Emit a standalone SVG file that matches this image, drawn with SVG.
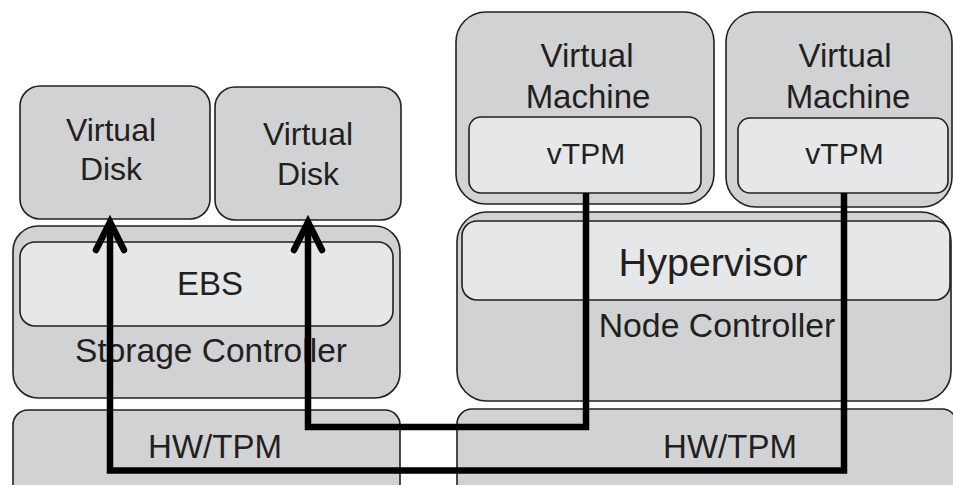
<svg xmlns="http://www.w3.org/2000/svg" width="953" height="485" viewBox="0 0 953 485">
  <style>
    .outer { fill: #d1d2d4; stroke: #231f20; stroke-width: 1.6; }
    .inner { fill: #e6e7e8; stroke: #231f20; stroke-width: 1.6; }
    .lbl { font-family: "Liberation Sans", Arial, sans-serif; fill: #231f20; text-anchor: middle; }
    .wire { fill: none; stroke: #000; stroke-width: 6.5; stroke-linejoin: miter; }
  </style>
  <defs>
    <marker id="chevron" markerUnits="userSpaceOnUse" viewBox="-36 -20 44 40" refX="-4" refY="0"
            markerWidth="44" markerHeight="40" orient="auto" overflow="visible">
      <path d="M-28,-14 L0,0 L-28,14" fill="none" stroke="#000" stroke-width="6.5"
            stroke-linecap="round" stroke-linejoin="miter"/>
    </marker>
  </defs>

  <rect width="953" height="485" fill="#ffffff"/>

  <!-- Storage side -->
  <g id="virtual-disk-1">
    <rect class="outer" x="20" y="86" width="190" height="133" rx="20"/>
    <text class="lbl" x="111" y="141" font-size="32">Virtual</text>
    <text class="lbl" x="111" y="180" font-size="32">Disk</text>
  </g>
  <g id="virtual-disk-2">
    <rect class="outer" x="215" y="87" width="186" height="133" rx="20"/>
    <text class="lbl" x="308" y="145" font-size="32">Virtual</text>
    <text class="lbl" x="308" y="185" font-size="32">Disk</text>
  </g>
  <g id="storage-controller">
    <rect class="outer" x="13" y="226" width="387" height="172" rx="25"/>
    <text class="lbl" x="211" y="362" font-size="33.5">Storage Controller</text>
  </g>
  <g id="ebs">
    <rect class="inner" x="20" y="242" width="373" height="84" rx="15"/>
    <text class="lbl" x="210" y="295" font-size="33">EBS</text>
  </g>
  <g id="hw-tpm-storage">
    <rect class="outer" x="13" y="410" width="387" height="100" rx="15"/>
    <text class="lbl" x="215" y="458" font-size="33">HW/TPM</text>
  </g>

  <!-- Compute side -->
  <g id="virtual-machine-1">
    <rect class="outer" x="456" y="12" width="258" height="192" rx="30"/>
    <text class="lbl" x="587" y="67" font-size="33">Virtual</text>
    <text class="lbl" x="588" y="108" font-size="33">Machine</text>
  </g>
  <g id="vtpm-1">
    <rect class="inner" x="469" y="117" width="232" height="76" rx="12"/>
    <text class="lbl" x="586" y="164" font-size="30">vTPM</text>
  </g>
  <g id="virtual-machine-2">
    <rect class="outer" x="726" y="12" width="226" height="195" rx="30"/>
    <text class="lbl" x="845" y="67" font-size="33">Virtual</text>
    <text class="lbl" x="848" y="108" font-size="33">Machine</text>
  </g>
  <g id="vtpm-2">
    <rect class="inner" x="738" y="118" width="210" height="75" rx="12"/>
    <text class="lbl" x="844.5" y="164" font-size="30">vTPM</text>
  </g>
  <g id="node-controller">
    <rect class="outer" x="457" y="212" width="494" height="189" rx="30"/>
    <text class="lbl" x="717" y="337" font-size="33.8">Node Controller</text>
  </g>
  <g id="hypervisor">
    <rect class="inner" x="462" y="221" width="488" height="79" rx="15"/>
    <text class="lbl" x="713" y="276" font-size="39.5">Hypervisor</text>
  </g>
  <g id="hw-tpm-node">
    <rect class="outer" x="457" y="409" width="500" height="100" rx="15"/>
    <text class="lbl" x="730" y="458" font-size="33">HW/TPM</text>
  </g>

  <!-- Connectors: vTPM paths down through hardware and up to the disks -->
  <g id="connectors">
    <path class="wire" d="M844,193 V470.5 H110 V226" marker-end="url(#chevron)"/>
    <path class="wire" d="M586,193 V427 H308 V226" marker-end="url(#chevron)"/>
  </g>
</svg>
